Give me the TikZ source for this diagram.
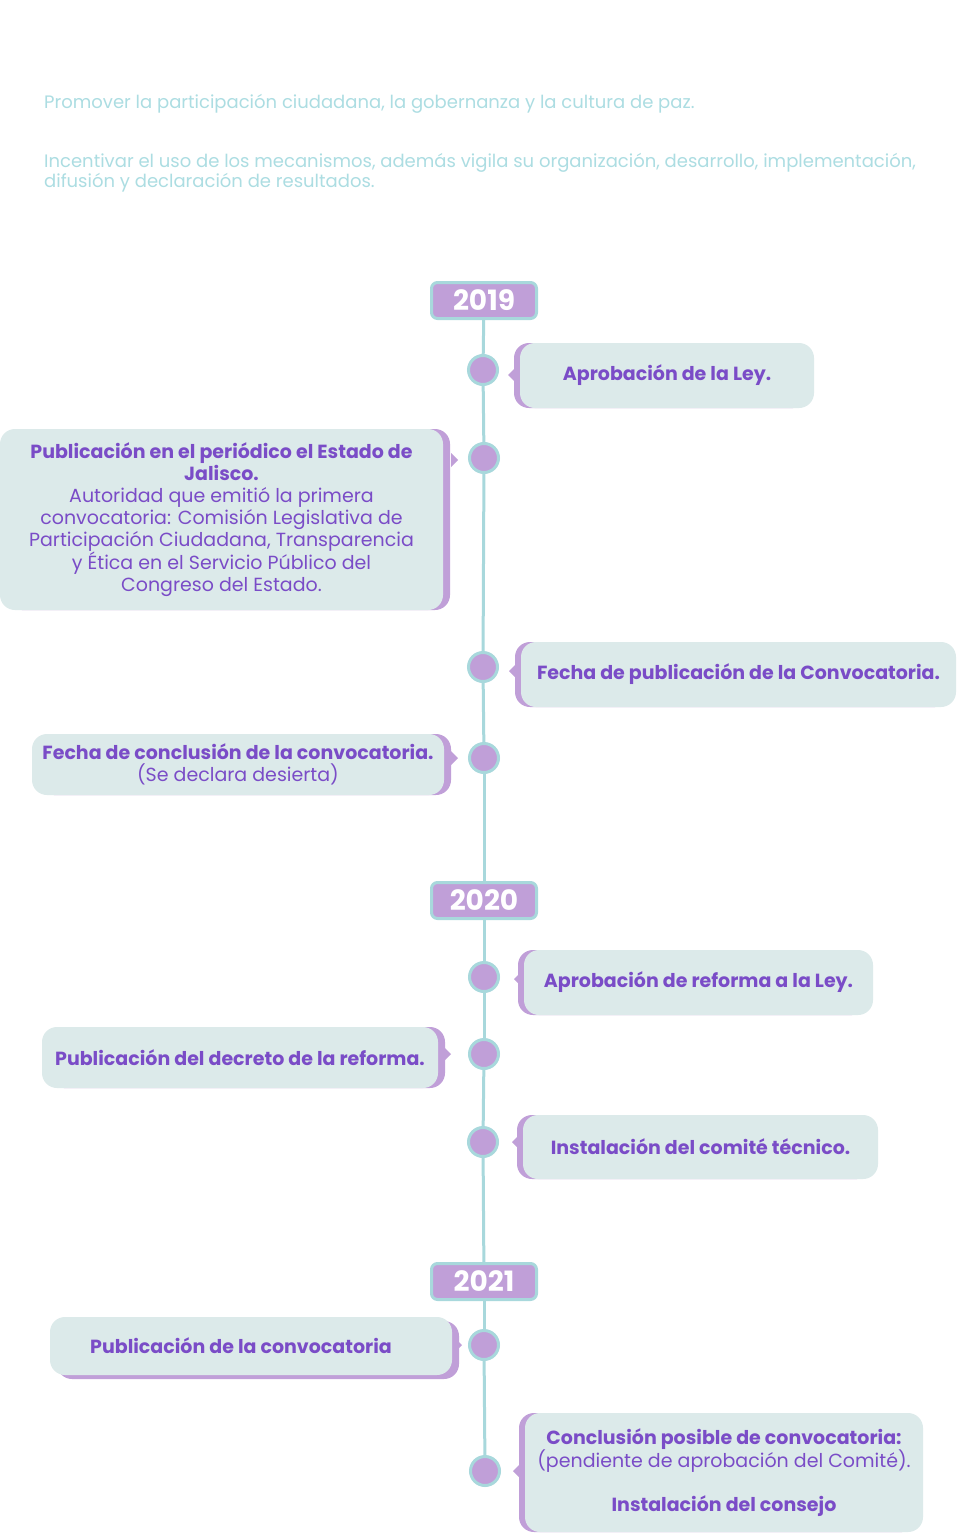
\documentclass[tikz,border=0pt]{standalone}
\usepackage{fontspec}
\setmainfont{Poppins}
\usetikzlibrary{shadows}
\definecolor{tealbox}{RGB}{220,234,234}
\definecolor{purp}{RGB}{192,159,216}
\definecolor{ink}{RGB}{122,76,199}
\definecolor{rail}{RGB}{168,216,220}
\definecolor{pale}{RGB}{172,221,226}

\begin{document}
\begin{tikzpicture}[x=1pt,y=-1pt,
  year/.style={shape=rectangle,rounded corners=6pt,fill=purp,draw=rail,line width=3pt,minimum width=105pt,minimum height=36pt,inner sep=0pt,text=white,font=\fontsize{28}{28}\selectfont\bfseries},
  dot/.style={shape=circle,fill=purp,draw=rail,line width=3pt,minimum size=29pt,inner sep=0pt},
  card/.style={shape=rectangle,rounded corners=15pt,fill=tealbox,text=ink,align=center,inner sep=0pt,font=\fontsize{19}{22}\selectfont},
  backl/.style={drop shadow={shadow xshift=-6pt,shadow yshift=#1,fill=purp,opacity=1}},
  backl/.default=0pt,
  backr/.style={drop shadow={shadow xshift=7pt,shadow yshift=#1,fill=purp,opacity=1}},
  backr/.default=0pt,
  note/.style={anchor=west,text=pale,align=left,inner sep=0pt,font=\fontsize{18}{20}\selectfont}]
\fill[white] (0,0) rectangle (957,1536);
\useasboundingbox (0,0) rectangle (957,1536);

\node[note] (n1) at (44,104) {Promover la participación ciudadana, la gobernanza y la cultura de paz.};
\node[note] (n2) at (44,173) {Incentivar el uso de los mecanismos, además vigila su organización, desarrollo, implementación,\\difusión y declaración de resultados.};

% cards
\node[card,backl,minimum width=294pt,minimum height=65pt] (b1) at (667,375.5) {\textbf{Aprobación de la Ley.}};
\node[card,backr,minimum width=443pt,minimum height=181pt] (b2) at (221.5,519.5) {\textbf{Publicación en el periódico el Estado de}\\\textbf{Jalisco.}\\Autoridad que emitió la primera\\convocatoria: Comisión Legislativa de\\Participación Ciudadana, Transparencia\\y Ética en el Servicio Público del\\Congreso del Estado.};
\node[card,backl,minimum width=435pt,minimum height=65pt] (b3) at (738.5,674.5) {\textbf{Fecha de publicación de la Convocatoria.}};
\node[card,backr,minimum width=412pt,minimum height=61pt] (b4) at (238,764.5) {\textbf{Fecha de conclusión de la convocatoria.}\\(Se declara desierta)};
\node[card,backl,minimum width=349pt,minimum height=65pt] (b5) at (698.5,982.5) {\textbf{Aprobación de reforma a la Ley.}};
\node[card,backr,minimum width=396pt,minimum height=61pt] (b6) at (240,1057.5) {\textbf{Publicación del decreto de la reforma.}};
\node[card,backl,minimum width=355pt,minimum height=64pt] (b7) at (700.5,1147) {\textbf{Instalación del comité técnico.}};
\node[card,backr=-4pt,minimum width=402pt,minimum height=58pt] (b8) at (251,1346) {\textbf{Publicación de la convocatoria}\hspace*{20pt}};
\node[card,backl,minimum width=398pt,minimum height=119pt] (b9) at (724,1472.5) {\textbf{Conclusión posible de convocatoria:}\\(pendiente de aprobación del Comité).\\[22pt]\textbf{Instalación del consejo}};

% years and dots
\node[year] (y19) at (484,300.5) {2019};
\node[year] (y20) at (484,900.5) {2020};
\node[year] (y21) at (484,1281.5) {2021};
\node[dot] (d1) at (483,370) {};
\node[dot] (d2) at (484,458) {};
\node[dot] (d3) at (483,667) {};
\node[dot] (d4) at (484,758) {};
\node[dot] (d5) at (484,977) {};
\node[dot] (d6) at (484,1054) {};
\node[dot] (d7) at (483,1142) {};
\node[dot] (d8) at (484,1345) {};
\node[dot] (d9) at (485,1471) {};

% pointers
\fill[purp] (d1) ++(25,5) -- ++(7,-7) -- ++(0,14) -- cycle;
\fill[purp] (d2) ++(-26,2) -- ++(-7,-7) -- ++(0,14) -- cycle;
\fill[purp] (d3) ++(26,4) -- ++(7,-7) -- ++(0,14) -- cycle;
\fill[purp] (d4) ++(-26,0) -- ++(-7,-7) -- ++(0,14) -- cycle;
\fill[purp] (d5) ++(30,2) -- ++(7,-7) -- ++(0,14) -- cycle;
\fill[purp] (d6) ++(-33,0) -- ++(-7,-7) -- ++(0,14) -- cycle;
\fill[purp] (d7) ++(29,0) -- ++(7,-7) -- ++(0,14) -- cycle;
\fill[purp] (d8) ++(-22,0) -- ++(-7,-7) -- ++(0,14) -- cycle;
\fill[purp] (d9) ++(28,0) -- ++(7,-7) -- ++(0,14) -- cycle;

\path [-,draw=rail,line width=3pt] (y19) edge node {} (d1);
\path [-,draw=rail,line width=3pt] (d1) edge node {} (d2);
\path [-,draw=rail,line width=3pt] (d2) edge node {} (d3);
\path [-,draw=rail,line width=3pt] (d3) edge node {} (d4);
\path [-,draw=rail,line width=3pt] (d4) edge node {} (y20);
\path [-,draw=rail,line width=3pt] (y20) edge node {} (d5);
\path [-,draw=rail,line width=3pt] (d5) edge node {} (d6);
\path [-,draw=rail,line width=3pt] (d6) edge node {} (d7);
\path [-,draw=rail,line width=3pt] (d7) edge node {} (y21);
\path [-,draw=rail,line width=3pt] (y21) edge node {} (d8);
\path [-,draw=rail,line width=3pt] (d8) edge node {} (d9);
\end{tikzpicture}
\end{document}
